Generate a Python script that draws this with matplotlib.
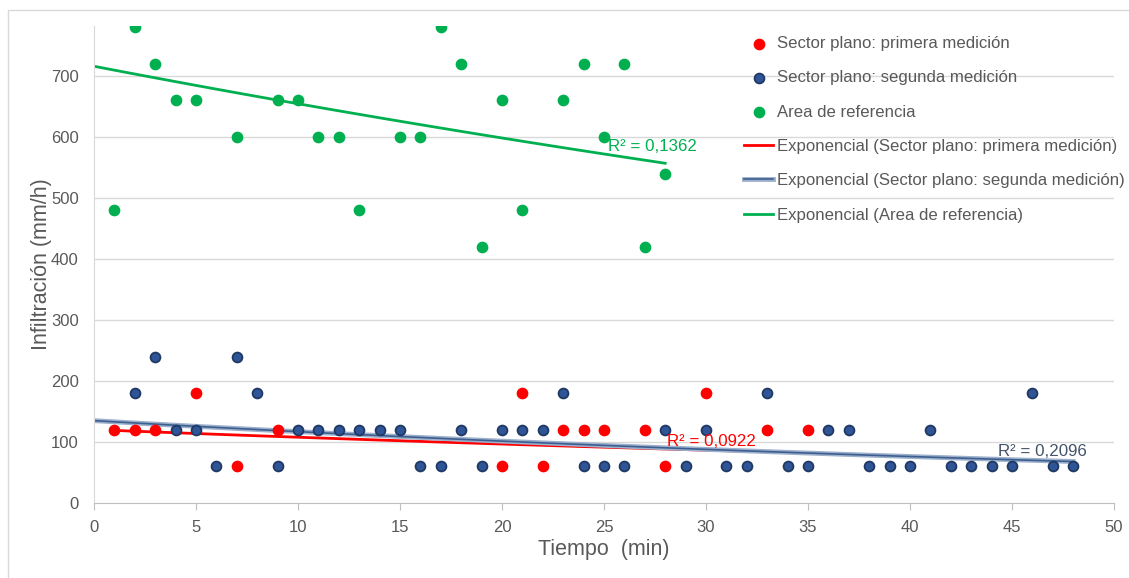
import numpy as np
import matplotlib.pyplot as plt
import matplotlib.patheffects as pe
from matplotlib.patches import Rectangle

# Sector plano: primera medicion
x_p1 = [1, 2, 3, 5, 7, 9, 20, 21, 22, 23, 24, 25, 27, 28, 30, 33, 35]
y_p1 = [120, 120, 120, 180, 60, 120, 60, 180, 60, 120, 120, 120, 120, 60, 180, 120, 120]

# Sector plano: segunda medicion
x_p2 = [2, 3, 4, 5, 6, 7, 8, 9, 10, 11, 12, 13, 14, 15, 16, 17, 18, 19, 20, 21, 22, 23, 24,
        25, 26, 28, 29, 30, 31, 32, 33, 34, 35, 36, 37, 38, 39, 40, 41, 42, 43, 44, 45, 46, 47, 48]
y_p2 = [180, 240, 120, 120, 60, 240, 180, 60, 120, 120, 120, 120, 120, 120, 60, 60, 120, 60, 120, 120, 120, 180, 60,
        60, 60, 120, 60, 120, 60, 60, 180, 60, 60, 120, 120, 60, 60, 60, 120, 60, 60, 60, 60, 180, 60, 60]

# Area de referencia
x_ref = [1, 2, 3, 4, 5, 7, 9, 10, 11, 12, 13, 15, 16, 17, 18, 19, 20, 21, 23, 24, 25, 26, 27, 28]
y_ref = [480, 780, 720, 660, 660, 600, 660, 660, 600, 600, 480, 600, 600, 780, 720, 420, 660, 480, 660, 720, 600, 720, 420, 540]

labels = ["Sector plano: primera medición", "Sector plano: segunda medición", "Area de referencia"]
r2_texts = ["R² = 0,0922", "R² = 0,2096", "R² = 0,1362"]

# exponential trends y = a*exp(b*x) as shown in the chart (a, b, x start, x end)
trend_p1 = (120.3, -0.01095, 1, 35)
trend_p2 = (135.0, -0.01429, 0, 48)
trend_ref = (716.0, -0.00897, 0, 28)

RED = "#ff0000"
BLUE = "#2f5597"
GREEN = "#00b050"
GREY = "#595959"

plt.rcParams['font.family'] = ['Liberation Sans', 'DejaVu Sans']
fig = plt.figure(figsize=(11.29, 5.78), dpi=100)
ax = fig.add_axes([94/1129, 1-503/578, 1020/1129, 477/578])

fig.patches.append(Rectangle((8/1129, -0.1), 1.2, 1.1-10/578, transform=fig.transFigure,
                             fill=False, edgecolor="#d9d9d9", lw=1))

for yv in range(100, 800, 100):
    ax.axhline(yv, color="#d9d9d9", lw=1, zorder=0)

# scatter series
h1 = ax.scatter(x_p1, y_p1, s=55, color=RED, zorder=4, label=labels[0])
h2 = ax.scatter(x_p2, y_p2, s=50, color=BLUE, edgecolor="#1f3864", linewidth=1.3, zorder=3, label=labels[1])
h3 = ax.scatter(x_ref, y_ref, s=55, color=GREEN, zorder=3, label=labels[2])


def trend(t):
    a, b, x0, x1 = t
    xx = np.linspace(x0, x1, 100)
    return xx, a*np.exp(b*xx)


xx, yy = trend(trend_p1)
t1, = ax.plot(xx, yy, color=RED, lw=2, zorder=2, label="Exponencial (" + labels[0] + ")")
xx, yy = trend(trend_p2)
t2, = ax.plot(xx, yy, color="#3d5f8f", lw=1.2, zorder=2,
              path_effects=[pe.withStroke(linewidth=3.5, foreground="#9db0cc")],
              label="Exponencial (" + labels[1] + ")")
xx, yy = trend(trend_ref)
t3, = ax.plot(xx, yy, color=GREEN, lw=2, zorder=2, label="Exponencial (" + labels[2] + ")")

ax.text(28.1, 101, r2_texts[0], color=RED, fontsize=12.2, va="center")
ax.text(44.3, 85, r2_texts[1], color="#44546a", fontsize=12.2, va="center")
ax.text(25.2, 584, r2_texts[2], color=GREEN, fontsize=12.2, va="center")

ax.set_xlim(0, 50)
ax.set_ylim(0, 782)
ax.set_xticks(range(0, 51, 5))
ax.set_yticks(range(0, 701, 100))
ax.tick_params(axis="x", colors=GREY, labelsize=12, length=5, color="#bfbfbf", pad=7)
ax.tick_params(axis="y", colors=GREY, labelsize=12, length=0, pad=11)
for s in ["top", "right"]:
    ax.spines[s].set_visible(False)
ax.spines["bottom"].set_color("#bfbfbf")
ax.spines["left"].set_color("#d9d9d9")

ax.set_xlabel("Tiempo  (min)", fontsize=15.5, color=GREY, labelpad=3)
ax.set_ylabel("Infiltración (mm/h)", fontsize=15.5, color=GREY, labelpad=-1)

ax.legend(handles=[h1, h2, h3, t1, t2, t3], loc="upper left",
          bbox_to_anchor=(744/1129, 1-36/578), bbox_transform=fig.transFigure,
          frameon=False, fontsize=12.1, labelcolor=GREY, handlelength=1.75,
          handletextpad=0.2, labelspacing=1.15, borderpad=0, borderaxespad=0)

fig.savefig("out.png", dpi=100)
